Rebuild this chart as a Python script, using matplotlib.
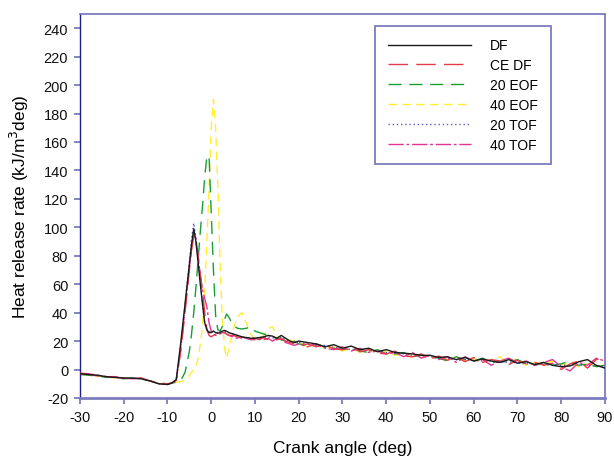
import matplotlib.pyplot as plt

plt.rcParams['font.family'] = ['Liberation Sans', 'DejaVu Sans']
plt.rcParams['axes.unicode_minus'] = False

# crank angle samples (deg), finer around ignition
angle = [-30, -28, -26, -24, -22, -20, -18, -16, -14, -12, -10,
         -9, -8, -7,
         -6.5, -6, -5.5, -5, -4.5, -4, -3.5, -3, -2.5, -2, -1.5, -1, -0.5,
         0, 0.5, 1, 1.5, 2, 2.5, 3, 3.5, 4,
         5, 6, 7, 8, 9, 10, 11, 12, 13, 14, 15, 16, 17, 18, 19, 20,
         22, 24, 26, 28, 30, 32, 34, 36, 38, 40, 42, 44, 46, 48, 50, 52,
         54, 56, 58, 60, 62, 64, 66, 68, 70, 72, 74, 76, 78, 80, 82, 84,
         86, 88, 90]

# heat release rate (kJ/m3 deg)
df = [-3, -3.5, -4, -5, -5.5, -6, -6, -6.5, -8, -10, -10.5,
      -9.5, -7, 18,
      32, 46, 60, 74, 88, 99, 90, 75, 60, 46, 33, 28, 26,
      26, 27, 26, 25.5, 26, 27, 27.5, 27, 26,
      25, 24, 23, 22.5, 22, 22, 22.5, 23, 24, 23.5, 22, 24, 22, 20, 19, 20,
      19, 18, 16, 17.5, 15, 16.5, 14, 15, 12.5, 14, 12, 11.5, 11, 10, 10, 8.5,
      9, 7, 8.5, 6, 7.5, 6, 5, 7, 4.5, 5.5, 3.5, 5, 3, 2, 2.5, 5.5,
      7, 3, 1]

ce_df = [-3, -3.5, -4.5, -5, -5.5, -6, -6.5, -6, -8, -10, -10,
         -9.5, -7.5, 12,
         26, 40, 55, 70, 84, 94, 90, 80, 67, 55, 40, 28, 24,
         23, 24, 25, 25, 25.5, 26, 26, 25, 24,
         24, 23, 22, 21, 21.5, 22, 21, 22.5, 21, 20, 21, 22, 20, 19, 18, 17,
         18, 16, 17.5, 14.5, 14, 16.5, 12.5, 14, 11.5, 11, 13, 9.5, 9, 11, 7.5, 9.5,
         6.5, 9, 5.5, 8.5, 5, 7, 6, 3.5, 6.5, 4, 5, 3, 4.5, 0, 4, 6,
         1, 7, 8]

eof_20 = [-3.5, -4, -4.5, -5.5, -5.5, -6.5, -6, -6.5, -8, -9.5, -10,
          -9.5, -9, -8,
          -5, -2, 5, 13, 25, 40, 58, 77, 97, 115, 135, 150, 150,
          110, 70, 38, 28, 27, 30, 35, 39, 37,
          31, 29, 28.5, 29, 30, 27, 26, 25, 24, 23, 22, 21, 20, 19, 20, 18,
          17, 18, 16, 15, 14, 15, 13, 12, 14, 11, 11, 12, 9, 10, 9, 8,
          6, 9, 7, 6, 8, 5, 6, 5, 7, 4, 3, 5, 3, 4, 6, 3,
          4, 2, 3]

eof_40 = [-3, -3.5, -4.5, -5, -6, -6, -6.5, -6, -8, -9.5, -10,
          -9.5, -9, -8.5,
          -8, -7, -6, -4, -2, 0, 2, 8, 18, 30, 55, 90, 128,
          170, 190, 170, 130, 78, 36, 16, 8, 14,
          28, 37, 40, 33, 25, 21, 21, 24, 29, 30, 24, 21, 20, 21, 19, 20,
          16, 17, 15, 16, 13, 15, 12, 14, 11, 13, 10, 11, 9, 10, 8, 9,
          7, 8, 6, 8, 5, 7, 9, 4, 8, 3, 5, 4, 6, 3, 5, 2,
          4, 3, 2]

tof_20 = [-3, -3.5, -4, -5, -5.5, -6, -6, -6.5, -8, -10, -10.5,
          -9.5, -7, 16,
          30, 45, 60, 75, 92, 103, 92, 78, 62, 46, 33, 28, 27,
          26, 27, 26.5, 26, 26, 27, 27, 26.5, 26,
          25, 24, 23, 22, 22.5, 22, 23, 22, 23, 22.5, 21, 23, 21, 20, 19, 19,
          18, 17, 17, 15.5, 15, 14, 14, 13, 13, 12, 11.5, 11, 10, 10, 9, 8.5,
          8, 7, 7, 6.5, 6, 6, 5, 5.5, 4.5, 4, 4, 3.5, 3, 3, 3, 3.5,
          3, 2.5, 2]

tof_40 = [-2.5, -3, -4, -5, -5, -6, -6.5, -6, -8, -10, -10.5,
          -9.5, -7.5, 14,
          28, 42, 57, 72, 86, 95, 92, 80, 66, 56, 50, 44, 33,
          27, 25, 24, 24.5, 25, 26, 26, 25, 24,
          23, 22, 23, 22, 21, 21, 22, 21, 22, 20, 22, 21, 19, 18, 17, 18,
          16, 18, 15, 14, 16, 13, 15, 12, 13, 11, 12, 9, 12, 8, 10, 7,
          9, 5, 9, 6, 7, 3, 6, 8, 5, 6, 3, 5, 7, 2, -1, 5,
          3, 8, 6]

series = [
    ("DF", df, "#1a1a1a", (None, None), 6),
    ("CE DF", ce_df, "#e23b4b", (14, 6), 5),
    ("20 EOF", eof_20, "#18a035", (9.5, 5.5), 2),
    ("40 EOF", eof_40, "#ffee30", (6, 4), 1),
    ("20 TOF", tof_20, "#5a5ac0", (1, 2), 3),
    ("40 TOF", tof_40, "#e23590", (11, 2, 2, 2), 4),
]

fig = plt.figure(figsize=(6.14, 4.64), dpi=100)
ax = fig.add_axes([0.1303, 0.1401, 0.8550, 0.8276])

for name, vals, col, dash, z in series:
    line, = ax.plot(angle, vals, color=col, lw=1.0, label=name, zorder=z)
    if dash[0] is not None:
        line.set_dashes(dash)

ax.set_xlim(-30, 90)
ax.set_ylim(-20, 250)
ax.set_xticks(range(-30, 91, 10))
ax.set_yticks(range(-20, 241, 20))

light = "#7c7cbf"
ax.spines['left'].set_color("#1c1c8a")
ax.spines['left'].set_linewidth(1.0)
for s in ['top', 'right']:
    ax.spines[s].set_color(light)
    ax.spines[s].set_linewidth(1.3)
ax.spines['bottom'].set_color(light)
ax.spines['bottom'].set_linewidth(2.0)

ax.tick_params(axis='both', direction='out', length=4.5, width=1.3,
               color=light, labelsize=10.5, labelcolor="#111111", pad=4)

ax.set_xlabel("Crank angle (deg)", fontsize=12.5, labelpad=12)
ax.set_ylabel("Heat release rate (kJ/m$^{3}$deg)", fontsize=12.5, labelpad=9)

leg = ax.legend(loc='upper left', bbox_to_anchor=(0.562, 0.969),
                fontsize=10, handlelength=6, handletextpad=1.4,
                labelspacing=0.42, borderpad=0.9, borderaxespad=0,
                fancybox=False, framealpha=1)
leg.get_frame().set_edgecolor(light)
leg.get_frame().set_linewidth(1.3)

fig.savefig("out.png", dpi=100)
